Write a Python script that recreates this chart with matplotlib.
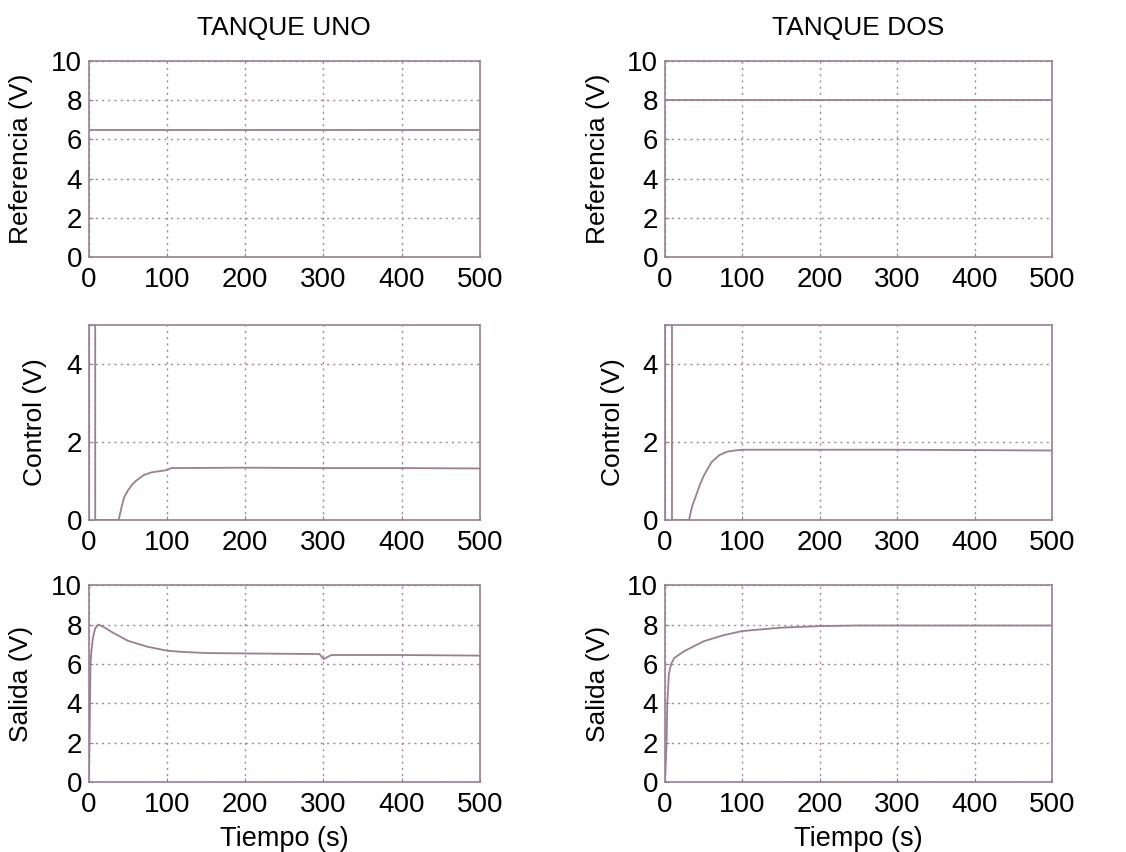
import matplotlib
matplotlib.use("Agg")
import matplotlib.pyplot as plt

# --- datos ---
t_ref = [0, 500]
ref_uno = [6.5, 6.5]
ref_dos = [8.0, 8.0]

t_ctrl_uno = [0, 0, 8, 8, 38, 42, 45, 50, 55, 60, 70, 80, 90, 100, 105, 200, 300, 400, 500]
ctrl_uno = [0, 5, 5, 0, 0, 0.35, 0.58, 0.76, 0.9, 1.0, 1.15, 1.22, 1.25, 1.28, 1.33, 1.34, 1.33, 1.33, 1.32]

t_ctrl_dos = [0, 0, 9, 9, 31, 35, 40, 45, 50, 60, 70, 80, 90, 100, 200, 300, 400, 500]
ctrl_dos = [0, 5, 5, 0, 0, 0.35, 0.62, 0.9, 1.13, 1.48, 1.66, 1.75, 1.78, 1.8, 1.8, 1.8, 1.79, 1.78]

t_sal_uno = [0, 1, 2, 3, 5, 8, 12, 20, 30, 50, 75, 100, 115, 150, 200, 295, 300, 303, 310, 400, 500]
sal_uno = [0, 3.0, 6.0, 6.6, 7.3, 7.8, 8.0, 7.85, 7.6, 7.17, 6.87, 6.67, 6.62, 6.55, 6.53, 6.5, 6.25, 6.3, 6.45, 6.45, 6.42]

t_sal_dos = [0, 1, 2, 3, 5, 8, 12, 25, 50, 75, 100, 150, 200, 250, 300, 400, 500]
sal_dos = [0, 1.0, 2.0, 4.0, 5.5, 6.0, 6.3, 6.65, 7.15, 7.45, 7.67, 7.84, 7.92, 7.95, 7.95, 7.95, 7.95]

x_ticks = [0, 100, 200, 300, 400, 500]

plt.rcParams["font.family"] = ["Liberation Sans", "DejaVu Sans"]
color = "#9a7e92"
grid_color = "#a5849a"

fig = plt.figure(figsize=(11.26, 8.52), dpi=100)

lefts = [0.079, 0.5906]
widths = [0.347, 0.3437]
bottoms = [0.6984, 0.3897, 0.0822]
heights = [0.230, 0.229, 0.231]

panels = [
    [(t_ref, ref_uno, "Referencia (V)", (0, 10), [0, 2, 4, 6, 8, 10], -0.143),
     (t_ctrl_uno, ctrl_uno, "Control (V)", (0, 5), [0, 2, 4], -0.107),
     (t_sal_uno, sal_uno, "Salida (V)", (0, 10), [0, 2, 4, 6, 8, 10], -0.143)],
    [(t_ref, ref_dos, "Referencia (V)", (0, 10), [0, 2, 4, 6, 8, 10], -0.142),
     (t_ctrl_dos, ctrl_dos, "Control (V)", (0, 5), [0, 2, 4], -0.103),
     (t_sal_dos, sal_dos, "Salida (V)", (0, 10), [0, 2, 4, 6, 8, 10], -0.142)],
]
titles = ["TANQUE UNO", "TANQUE DOS"]

for col in range(2):
    for row in range(3):
        tx, vals, ylabel, ylim, yticks, lab_x = panels[col][row]
        ax = fig.add_axes([lefts[col], bottoms[row], widths[col], heights[row]])
        ax.plot(tx, vals, color=color, lw=1.3)
        ax.set_xlim(0, 500)
        ax.set_ylim(*ylim)
        ax.set_xticks(x_ticks)
        ax.set_yticks(yticks)
        ax.grid(True, linestyle=(0, (1.5, 3)), color=grid_color, lw=1.0)
        for s in ax.spines.values():
            s.set_color(color)
            s.set_linewidth(1.2)
        ax.tick_params(direction="in", length=3, color=color, labelsize=20,
                       labelcolor="black")
        ax.tick_params(axis="x", pad=7)
        ax.tick_params(axis="y", pad=5)
        ax.set_ylabel(ylabel, fontsize=19)
        ax.yaxis.set_label_coords(lab_x, 0.5)
        if row == 0:
            ax.set_title(titles[col], fontsize=19, pad=19)
        if row == 2:
            ax.set_xlabel("Tiempo (s)", fontsize=19.5, labelpad=6)

fig.savefig("out.png", dpi=100)
